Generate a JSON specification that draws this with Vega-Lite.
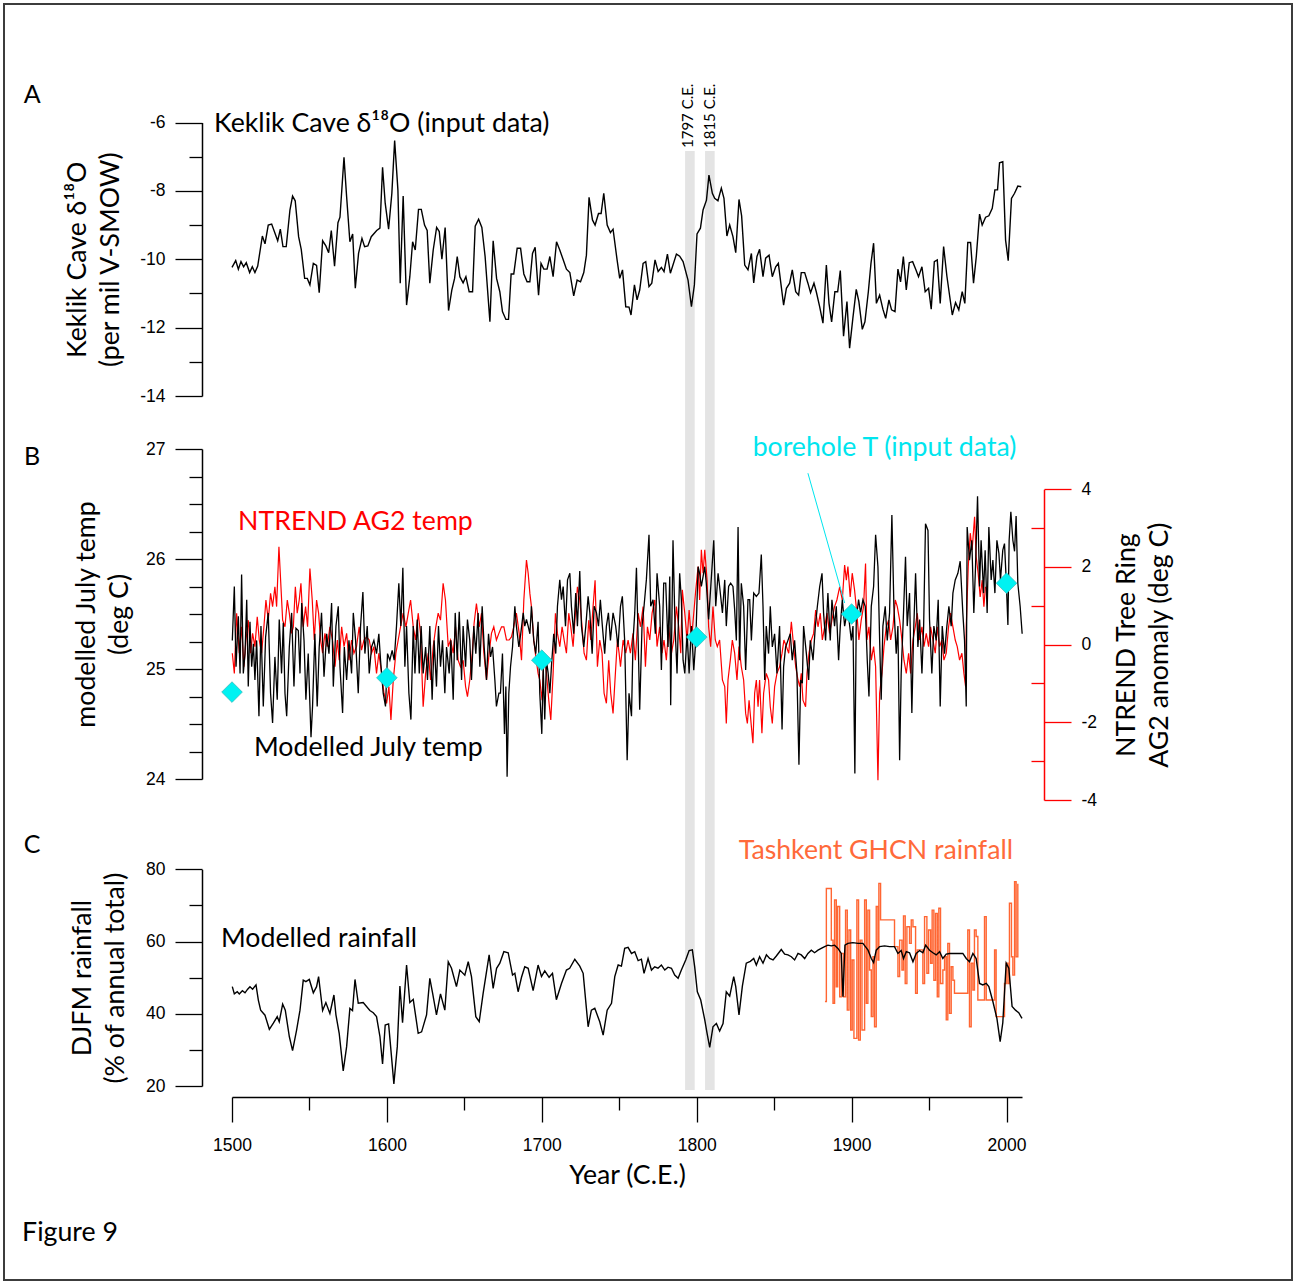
{
"$schema":"https://vega.github.io/schema/vega-lite/v6.json",
"width":1288,"height":1276,
"autosize":{"type":"none"},
"padding":{"left":4,"top":4,"right":4,"bottom":4},
"background":"white",
"config":{
 "view":{"stroke":"#3c3c3c","strokeWidth":2},
 "axis":{"labelFont":"Liberation Sans","labelFontSize":17.5,"labelColor":"#000","titleFont":"Lato","titleFontSize":26.7,"titleFontWeight":"normal","titleColor":"#000","domainColor":"#000","tickColor":"#000","domainWidth":1.5,"tickWidth":1.3,"grid":false,"labelFlush":false,"labelOverlap":false,"titleLineHeight":33}
},
"datasets":{
"keklik":[{"year":1500,"v":-10.24},{"year":1502.4,"v":-10.04},{"year":1504.1,"v":-10.29},{"year":1505.8,"v":-10.07},{"year":1507.5,"v":-10.22},{"year":1509.2,"v":-10.1},{"year":1511.4,"v":-10.39},{"year":1513.1,"v":-10.22},{"year":1514.8,"v":-10.39},{"year":1516.6,"v":-10.2},{"year":1519.6,"v":-9.32},{"year":1521.3,"v":-9.55},{"year":1523.4,"v":-9.0},{"year":1525.6,"v":-8.97},{"year":1529.5,"v":-9.46},{"year":1531.2,"v":-9.12},{"year":1532.9,"v":-9.63},{"year":1535,"v":-9.63},{"year":1537.4,"v":-8.56},{"year":1539.1,"v":-8.15},{"year":1540.8,"v":-8.29},{"year":1543,"v":-9.34},{"year":1544.7,"v":-9.71},{"year":1546.9,"v":-10.56},{"year":1548.6,"v":-10.56},{"year":1550.3,"v":-10.75},{"year":1552.5,"v":-10.12},{"year":1554.6,"v":-10.18},{"year":1556.3,"v":-10.98},{"year":1558.5,"v":-9.46},{"year":1560.6,"v":-9.61},{"year":1562.4,"v":-9.81},{"year":1564.1,"v":-9.16},{"year":1566.2,"v":-10.2},{"year":1568.4,"v":-8.93},{"year":1569.7,"v":-8.77},{"year":1572.3,"v":-7.02},{"year":1574,"v":-8.17},{"year":1576.1,"v":-9.49},{"year":1577.9,"v":-9.26},{"year":1579.6,"v":-10.85},{"year":1581.7,"v":-9.83},{"year":1583.9,"v":-9.39},{"year":1585.6,"v":-9.63},{"year":1587.7,"v":-9.61},{"year":1589.9,"v":-9.34},{"year":1593.4,"v":-9.16},{"year":1595.5,"v":-9.09},{"year":1597.2,"v":-7.31},{"year":1598.9,"v":-8.36},{"year":1601.1,"v":-9.12},{"year":1603.2,"v":-8.07},{"year":1605,"v":-6.53},{"year":1607.1,"v":-7.97},{"year":1608.6,"v":-10.7},{"year":1610.5,"v":-8.15},{"year":1612.7,"v":-11.34},{"year":1614.8,"v":-10.51},{"year":1616.6,"v":-9.49},{"year":1618.3,"v":-9.73},{"year":1620.4,"v":-8.54},{"year":1622.2,"v":-8.54},{"year":1624.3,"v":-9.0},{"year":1626,"v":-9.16},{"year":1627.7,"v":-10.7},{"year":1629.9,"v":-9.73},{"year":1632.1,"v":-9.07},{"year":1633.8,"v":-9.19},{"year":1635.5,"v":-10.0},{"year":1637.6,"v":-9.07},{"year":1639.8,"v":-11.5},{"year":1641.9,"v":-10.9},{"year":1643.7,"v":-10.56},{"year":1645.4,"v":-9.92},{"year":1647.1,"v":-10.51},{"year":1649.2,"v":-10.69},{"year":1651,"v":-10.51},{"year":1653.1,"v":-10.95},{"year":1655.3,"v":-10.95},{"year":1657,"v":-9.03},{"year":1659.2,"v":-8.83},{"year":1661.3,"v":-9.07},{"year":1663.4,"v":-9.92},{"year":1666.5,"v":-11.83},{"year":1668.6,"v":-9.46},{"year":1670.8,"v":-10.56},{"year":1672.9,"v":-10.95},{"year":1674.6,"v":-11.53},{"year":1676.8,"v":-11.76},{"year":1678.5,"v":-11.76},{"year":1680.2,"v":-10.43},{"year":1681.9,"v":-10.43},{"year":1684.1,"v":-9.68},{"year":1686.3,"v":-9.68},{"year":1688.4,"v":-10.43},{"year":1690.5,"v":-10.66},{"year":1692.3,"v":-10.66},{"year":1694,"v":-9.83},{"year":1695.7,"v":-9.65},{"year":1697.9,"v":-11.05},{"year":1699.5,"v":-10.12},{"year":1701.3,"v":-10.29},{"year":1703.4,"v":-10.29},{"year":1705.2,"v":-9.92},{"year":1707.3,"v":-10.51},{"year":1709.5,"v":-9.49},{"year":1711.6,"v":-9.73},{"year":1713.7,"v":-10.0},{"year":1715.9,"v":-10.29},{"year":1718.1,"v":-10.39},{"year":1720.6,"v":-11.07},{"year":1722.8,"v":-10.61},{"year":1725,"v":-10.66},{"year":1727.1,"v":-10.39},{"year":1728.8,"v":-9.88},{"year":1730.5,"v":-8.19},{"year":1732.7,"v":-8.85},{"year":1734.4,"v":-9.0},{"year":1736.6,"v":-8.66},{"year":1738.3,"v":-8.66},{"year":1740,"v":-8.07},{"year":1742.2,"v":-9.0},{"year":1744.3,"v":-9.22},{"year":1746,"v":-9.12},{"year":1748.6,"v":-10.02},{"year":1750.3,"v":-10.56},{"year":1752.1,"v":-10.31},{"year":1754.2,"v":-11.39},{"year":1756.3,"v":-11.4},{"year":1757.6,"v":-11.63},{"year":1759.8,"v":-10.75},{"year":1761.5,"v":-11.19},{"year":1763.2,"v":-10.9},{"year":1765.4,"v":-10.12},{"year":1767.1,"v":-10.07},{"year":1769.2,"v":-10.8},{"year":1771,"v":-10.7},{"year":1773.1,"v":-10.02},{"year":1775.1,"v":-10.36},{"year":1777.2,"v":-10.24},{"year":1778.9,"v":-10.36},{"year":1781.1,"v":-9.85},{"year":1783,"v":-10.41},{"year":1786.9,"v":-9.85},{"year":1789,"v":-9.91},{"year":1791.2,"v":-10.07},{"year":1794.4,"v":-10.61},{"year":1796.6,"v":-11.39},{"year":1798.5,"v":-10.75},{"year":1800.2,"v":-9.26},{"year":1802.4,"v":-9.09},{"year":1804.1,"v":-8.56},{"year":1806.3,"v":-8.27},{"year":1807.9,"v":-7.54},{"year":1810.1,"v":-8.07},{"year":1811.6,"v":-8.22},{"year":1813.7,"v":-8.29},{"year":1815.9,"v":-7.92},{"year":1817.6,"v":-8.22},{"year":1819.5,"v":-9.32},{"year":1821.3,"v":-9.0},{"year":1823.4,"v":-9.34},{"year":1825.2,"v":-9.81},{"year":1827.3,"v":-8.25},{"year":1829,"v":-8.73},{"year":1831,"v":-10.17},{"year":1833.1,"v":-10.31},{"year":1835.3,"v":-9.83},{"year":1836.8,"v":-10.69},{"year":1838.9,"v":-9.92},{"year":1840.6,"v":-9.71},{"year":1842.8,"v":-10.51},{"year":1844.5,"v":-9.97},{"year":1846.7,"v":-9.88},{"year":1848.8,"v":-10.51},{"year":1851,"v":-10.22},{"year":1852.7,"v":-10.12},{"year":1856.1,"v":-11.34},{"year":1857.9,"v":-10.85},{"year":1860,"v":-10.7},{"year":1861.7,"v":-10.31},{"year":1863.9,"v":-10.95},{"year":1865.8,"v":-11.05},{"year":1867.5,"v":-10.39},{"year":1869.7,"v":-10.39},{"year":1871.8,"v":-10.7},{"year":1873.5,"v":-10.98},{"year":1875.7,"v":-10.7},{"year":1877.2,"v":-10.95},{"year":1879.4,"v":-11.39},{"year":1881.5,"v":-11.87},{"year":1883.7,"v":-10.17},{"year":1885.4,"v":-11.29},{"year":1887.1,"v":-11.83},{"year":1889.2,"v":-10.95},{"year":1891,"v":-10.95},{"year":1892.7,"v":-10.33},{"year":1894.8,"v":-12.25},{"year":1897,"v":-11.24},{"year":1898.7,"v":-12.6},{"year":1900.8,"v":-11.73},{"year":1903,"v":-10.88},{"year":1904.7,"v":-11.24},{"year":1906.9,"v":-12.05},{"year":1908.6,"v":-11.83},{"year":1910.8,"v":-10.95},{"year":1912.5,"v":-10.12},{"year":1914.2,"v":-9.53},{"year":1916,"v":-11.29},{"year":1918.1,"v":-11.05},{"year":1920.2,"v":-11.46},{"year":1922,"v":-11.73},{"year":1924.1,"v":-11.19},{"year":1925.8,"v":-11.48},{"year":1928,"v":-11.53},{"year":1929.9,"v":-10.29},{"year":1931.6,"v":-10.66},{"year":1933.4,"v":-9.92},{"year":1935.3,"v":-10.9},{"year":1937.2,"v":-10.1},{"year":1939.4,"v":-10.07},{"year":1941.5,"v":-10.31},{"year":1943.2,"v":-10.51},{"year":1945.4,"v":-10.22},{"year":1947.5,"v":-10.95},{"year":1949.7,"v":-10.85},{"year":1951.4,"v":-11.46},{"year":1953.4,"v":-10.07},{"year":1955.3,"v":-10.02},{"year":1957.2,"v":-11.29},{"year":1959.4,"v":-9.63},{"year":1961.5,"v":-10.49},{"year":1965,"v":-11.63},{"year":1967.1,"v":-11.27},{"year":1969.2,"v":-11.48},{"year":1971.4,"v":-10.95},{"year":1973.1,"v":-11.29},{"year":1975,"v":-9.51},{"year":1976.8,"v":-9.51},{"year":1978.7,"v":-10.7},{"year":1980.5,"v":-9.92},{"year":1982.6,"v":-8.68},{"year":1984.3,"v":-9.0},{"year":1986.5,"v":-8.77},{"year":1988.6,"v":-8.73},{"year":1990.8,"v":-8.51},{"year":1992.5,"v":-7.97},{"year":1994.2,"v":-7.97},{"year":1995.5,"v":-7.18},{"year":1997.6,"v":-7.15},{"year":1999.4,"v":-9.44},{"year":2001.1,"v":-10.04},{"year":2003.2,"v":-8.22},{"year":2005.2,"v":-8.07},{"year":2007.3,"v":-7.86},{"year":2009.5,"v":-7.88}],
"july":[{"year":1500.2,"v":25.26},{"year":1501.5,"v":25.75},{"year":1502.6,"v":25.02},{"year":1504.1,"v":25.48},{"year":1505.2,"v":24.96},{"year":1506.2,"v":25.86},{"year":1507.3,"v":24.96},{"year":1508.4,"v":25.14},{"year":1509.5,"v":25.63},{"year":1510.5,"v":24.84},{"year":1511.6,"v":25.43},{"year":1512.7,"v":25.02},{"year":1513.8,"v":25.23},{"year":1514.8,"v":24.9},{"year":1515.9,"v":25.26},{"year":1517.4,"v":24.57},{"year":1518.7,"v":25.39},{"year":1520.2,"v":24.66},{"year":1521.7,"v":25.29},{"year":1523.4,"v":25.51},{"year":1524.9,"v":24.78},{"year":1526.2,"v":24.51},{"year":1527.7,"v":25.11},{"year":1529.2,"v":24.72},{"year":1530.5,"v":25.45},{"year":1532.0,"v":24.96},{"year":1533.1,"v":25.42},{"year":1534.2,"v":24.78},{"year":1535.3,"v":24.57},{"year":1537.0,"v":25.2},{"year":1538.5,"v":25.51},{"year":1540.0,"v":24.84},{"year":1541.3,"v":25.37},{"year":1542.8,"v":25.35},{"year":1543.9,"v":24.96},{"year":1545.0,"v":25.6},{"year":1546.5,"v":25.26},{"year":1547.7,"v":24.72},{"year":1549.2,"v":25.14},{"year":1551.0,"v":24.38},{"year":1552.0,"v":24.66},{"year":1553.5,"v":25.32},{"year":1555.0,"v":24.66},{"year":1556.3,"v":25.2},{"year":1557.8,"v":25.51},{"year":1559.4,"v":24.93},{"year":1561.1,"v":25.32},{"year":1562.6,"v":25.14},{"year":1564.3,"v":25.6},{"year":1565.4,"v":24.84},{"year":1567.1,"v":25.39},{"year":1568.6,"v":25.57},{"year":1569.7,"v":25.02},{"year":1571.4,"v":24.6},{"year":1572.5,"v":25.2},{"year":1574.0,"v":24.9},{"year":1575.5,"v":25.26},{"year":1577.2,"v":24.96},{"year":1578.3,"v":25.51},{"year":1579.8,"v":25.26},{"year":1581.5,"v":24.78},{"year":1583.0,"v":25.39},{"year":1584.5,"v":25.7},{"year":1585.8,"v":25.14},{"year":1587.3,"v":25.39},{"year":1588.6,"v":24.96},{"year":1590.1,"v":25.2},{"year":1591.6,"v":25.26},{"year":1593.3,"v":25.14},{"year":1594.8,"v":25.32},{"year":1595.9,"v":25.08},{"year":1597.6,"v":24.78},{"year":1599.1,"v":24.66},{"year":1600.4,"v":25.14},{"year":1601.9,"v":25.08},{"year":1603.4,"v":25.17},{"year":1604.7,"v":25.08},{"year":1606.2,"v":25.39},{"year":1607.7,"v":25.78},{"year":1609.0,"v":25.39},{"year":1610.3,"v":25.92},{"year":1611.6,"v":25.02},{"year":1612.7,"v":25.39},{"year":1614.2,"v":24.78},{"year":1615.5,"v":24.54},{"year":1617.0,"v":25.39},{"year":1618.1,"v":24.96},{"year":1619.6,"v":25.45},{"year":1620.9,"v":24.96},{"year":1622.1,"v":25.39},{"year":1623.4,"v":24.96},{"year":1625.0,"v":25.2},{"year":1626.2,"v":24.9},{"year":1627.7,"v":25.39},{"year":1629.2,"v":24.72},{"year":1630.5,"v":25.26},{"year":1632.0,"v":24.84},{"year":1633.3,"v":25.39},{"year":1634.6,"v":25.02},{"year":1635.9,"v":25.26},{"year":1637.4,"v":24.78},{"year":1638.5,"v":25.2},{"year":1640.2,"v":24.96},{"year":1641.3,"v":25.26},{"year":1642.8,"v":24.72},{"year":1644.1,"v":25.51},{"year":1645.4,"v":25.08},{"year":1646.7,"v":25.52},{"year":1648.2,"v":24.9},{"year":1649.2,"v":25.39},{"year":1650.8,"v":25.02},{"year":1652.0,"v":25.45},{"year":1653.5,"v":25.26},{"year":1654.6,"v":24.9},{"year":1656.1,"v":25.39},{"year":1657.4,"v":25.14},{"year":1658.9,"v":25.51},{"year":1660.0,"v":25.02},{"year":1661.5,"v":25.57},{"year":1662.8,"v":25.2},{"year":1664.3,"v":24.9},{"year":1665.6,"v":25.32},{"year":1666.9,"v":25.11},{"year":1668.2,"v":25.2},{"year":1669.7,"v":24.9},{"year":1670.7,"v":24.66},{"year":1672.3,"v":24.78},{"year":1673.3,"v":24.78},{"year":1674.6,"v":25.14},{"year":1675.9,"v":24.41},{"year":1676.8,"v":24.84},{"year":1677.6,"v":24.02},{"year":1678.7,"v":24.78},{"year":1679.8,"v":25.02},{"year":1681.1,"v":25.2},{"year":1682.6,"v":25.57},{"year":1683.6,"v":25.39},{"year":1685.2,"v":25.2},{"year":1686.4,"v":25.32},{"year":1688.0,"v":25.51},{"year":1689.0,"v":25.39},{"year":1690.1,"v":25.45},{"year":1691.2,"v":25.39},{"year":1692.3,"v":25.32},{"year":1693.3,"v":25.57},{"year":1694.8,"v":25.26},{"year":1696.1,"v":25.14},{"year":1697.6,"v":25.43},{"year":1698.7,"v":24.78},{"year":1700.0,"v":24.41},{"year":1700.9,"v":25.02},{"year":1701.9,"v":24.54},{"year":1703.0,"v":25.08},{"year":1704.1,"v":24.96},{"year":1705.2,"v":24.78},{"year":1706.2,"v":25.02},{"year":1707.7,"v":25.32},{"year":1709.0,"v":25.14},{"year":1710.1,"v":25.57},{"year":1711.6,"v":25.81},{"year":1712.7,"v":25.63},{"year":1713.8,"v":25.75},{"year":1715.3,"v":25.39},{"year":1716.6,"v":25.81},{"year":1718.1,"v":25.87},{"year":1719.1,"v":25.57},{"year":1720.6,"v":25.32},{"year":1721.9,"v":25.69},{"year":1723.0,"v":25.39},{"year":1724.5,"v":25.89},{"year":1725.6,"v":25.39},{"year":1727.1,"v":25.2},{"year":1728.4,"v":25.39},{"year":1729.9,"v":25.66},{"year":1731.0,"v":25.51},{"year":1732.5,"v":25.14},{"year":1733.8,"v":25.57},{"year":1735.3,"v":25.51},{"year":1736.6,"v":25.39},{"year":1737.8,"v":25.63},{"year":1739.1,"v":25.39},{"year":1740.6,"v":25.14},{"year":1741.7,"v":25.39},{"year":1743.0,"v":25.51},{"year":1744.3,"v":25.26},{"year":1746.0,"v":25.51},{"year":1747.7,"v":25.39},{"year":1749.2,"v":25.2},{"year":1750.8,"v":25.57},{"year":1752.0,"v":25.66},{"year":1753.5,"v":25.26},{"year":1755.1,"v":24.17},{"year":1756.3,"v":24.78},{"year":1757.9,"v":24.57},{"year":1758.9,"v":25.26},{"year":1760.0,"v":25.51},{"year":1761.1,"v":25.92},{"year":1762.2,"v":25.26},{"year":1763.2,"v":24.63},{"year":1764.7,"v":25.39},{"year":1766.0,"v":25.57},{"year":1767.5,"v":25.81},{"year":1769.2,"v":26.22},{"year":1770.3,"v":25.57},{"year":1771.8,"v":25.63},{"year":1773.3,"v":25.32},{"year":1774.4,"v":25.87},{"year":1776.1,"v":25.57},{"year":1777.2,"v":24.99},{"year":1778.7,"v":25.78},{"year":1780.0,"v":25.78},{"year":1781.5,"v":25.2},{"year":1782.6,"v":25.84},{"year":1783.2,"v":24.67},{"year":1784.7,"v":26.17},{"year":1786.0,"v":25.39},{"year":1787.3,"v":24.96},{"year":1789.0,"v":25.87},{"year":1790.1,"v":25.63},{"year":1791.2,"v":25.08},{"year":1792.3,"v":24.96},{"year":1793.8,"v":25.32},{"year":1795.1,"v":24.96},{"year":1796.6,"v":25.39},{"year":1798.1,"v":24.99},{"year":1799.4,"v":25.26},{"year":1800.9,"v":25.93},{"year":1801.9,"v":25.87},{"year":1803.0,"v":25.75},{"year":1804.1,"v":25.84},{"year":1805.2,"v":25.93},{"year":1806.2,"v":25.78},{"year":1807.7,"v":25.45},{"year":1809.5,"v":25.84},{"year":1811.0,"v":26.17},{"year":1812.3,"v":25.57},{"year":1813.8,"v":25.87},{"year":1814.8,"v":25.75},{"year":1816.6,"v":25.51},{"year":1818.1,"v":25.81},{"year":1819.1,"v":25.39},{"year":1820.6,"v":25.75},{"year":1821.9,"v":25.78},{"year":1823.4,"v":25.75},{"year":1824.5,"v":25.54},{"year":1825.6,"v":25.26},{"year":1826.7,"v":26.29},{"year":1827.7,"v":25.08},{"year":1828.8,"v":25.78},{"year":1830.3,"v":25.57},{"year":1831.6,"v":24.99},{"year":1833.1,"v":25.63},{"year":1834.2,"v":25.63},{"year":1835.3,"v":25.26},{"year":1836.8,"v":25.69},{"year":1838.5,"v":25.66},{"year":1840.2,"v":25.69},{"year":1841.7,"v":26.04},{"year":1842.8,"v":25.57},{"year":1843.9,"v":24.9},{"year":1844.9,"v":25.39},{"year":1846.4,"v":25.14},{"year":1847.5,"v":25.57},{"year":1848.8,"v":25.2},{"year":1850.3,"v":25.32},{"year":1851.8,"v":24.96},{"year":1853.5,"v":25.39},{"year":1855.1,"v":24.45},{"year":1856.1,"v":25.02},{"year":1857.4,"v":25.2},{"year":1858.9,"v":25.26},{"year":1860.4,"v":25.32},{"year":1861.7,"v":25.08},{"year":1863.2,"v":25.26},{"year":1864.7,"v":24.96},{"year":1866.0,"v":24.13},{"year":1867.1,"v":24.9},{"year":1868.2,"v":24.87},{"year":1869.0,"v":25.39},{"year":1870.8,"v":25.14},{"year":1872.3,"v":24.9},{"year":1873.3,"v":25.26},{"year":1875.1,"v":25.08},{"year":1876.6,"v":25.39},{"year":1877.9,"v":25.57},{"year":1879.4,"v":25.75},{"year":1880.9,"v":25.87},{"year":1881.9,"v":25.51},{"year":1883.2,"v":25.26},{"year":1884.7,"v":25.69},{"year":1886.2,"v":25.26},{"year":1887.3,"v":25.63},{"year":1889.0,"v":25.39},{"year":1890.1,"v":25.57},{"year":1891.6,"v":25.08},{"year":1892.7,"v":25.39},{"year":1894.0,"v":25.63},{"year":1895.5,"v":25.39},{"year":1897.0,"v":25.51},{"year":1898.3,"v":25.45},{"year":1899.8,"v":25.26},{"year":1900.9,"v":25.39},{"year":1902.1,"v":24.05},{"year":1903.0,"v":25.45},{"year":1904.5,"v":25.63},{"year":1905.8,"v":25.51},{"year":1907.3,"v":25.63},{"year":1908.8,"v":25.57},{"year":1910.1,"v":25.08},{"year":1911.2,"v":24.75},{"year":1912.7,"v":25.57},{"year":1914.2,"v":25.75},{"year":1915.5,"v":26.22},{"year":1917.0,"v":25.93},{"year":1918.1,"v":25.26},{"year":1919.1,"v":24.72},{"year":1920.2,"v":25.39},{"year":1921.7,"v":25.57},{"year":1923.0,"v":25.26},{"year":1924.5,"v":25.51},{"year":1926.0,"v":26.4},{"year":1927.3,"v":25.57},{"year":1928.8,"v":25.14},{"year":1929.9,"v":25.39},{"year":1931.0,"v":24.17},{"year":1932.0,"v":24.96},{"year":1933.5,"v":25.51},{"year":1934.8,"v":26.02},{"year":1935.9,"v":25.39},{"year":1937.4,"v":25.69},{"year":1938.9,"v":24.6},{"year":1940.0,"v":25.32},{"year":1941.3,"v":25.87},{"year":1942.8,"v":25.2},{"year":1943.9,"v":25.45},{"year":1945.4,"v":24.96},{"year":1946.5,"v":25.39},{"year":1947.7,"v":26.32},{"year":1949.3,"v":26.26},{"year":1950.3,"v":25.45},{"year":1951.8,"v":24.96},{"year":1953.1,"v":25.39},{"year":1954.6,"v":25.26},{"year":1955.9,"v":25.63},{"year":1957.2,"v":24.66},{"year":1958.5,"v":25.39},{"year":1960.0,"v":25.14},{"year":1961.5,"v":25.39},{"year":1962.8,"v":25.57},{"year":1964.3,"v":25.39},{"year":1965.4,"v":25.69},{"year":1966.9,"v":25.81},{"year":1968.6,"v":25.87},{"year":1970.1,"v":25.98},{"year":1971.8,"v":25.51},{"year":1972.9,"v":25.26},{"year":1974.0,"v":24.66},{"year":1974.6,"v":26.29},{"year":1976.1,"v":25.99},{"year":1977.6,"v":26.17},{"year":1978.9,"v":25.51},{"year":1980.0,"v":25.93},{"year":1981.3,"v":26.57},{"year":1982.6,"v":25.75},{"year":1983.6,"v":26.17},{"year":1985.2,"v":25.69},{"year":1986.2,"v":26.08},{"year":1987.5,"v":25.51},{"year":1988.6,"v":26.29},{"year":1990.1,"v":25.81},{"year":1991.2,"v":25.99},{"year":1992.5,"v":25.69},{"year":1993.8,"v":26.17},{"year":1995.1,"v":26.05},{"year":1996.1,"v":25.81},{"year":1997.6,"v":26.08},{"year":1998.7,"v":26.14},{"year":1999.8,"v":25.81},{"year":2000.9,"v":25.4},{"year":2001.7,"v":26.17},{"year":2002.8,"v":26.43},{"year":2004.1,"v":26.17},{"year":2005.2,"v":26.07},{"year":2006.2,"v":26.39},{"year":2007.3,"v":25.78},{"year":2008.8,"v":25.57},{"year":2010.1,"v":25.32}],
"ntrend":[{"year":1500.2,"v":-0.22},{"year":1501.5,"v":-0.74},{"year":1503.0,"v":0.81},{"year":1504.7,"v":-0.22},{"year":1506.2,"v":0.46},{"year":1507.7,"v":-0.57},{"year":1509.0,"v":0.12},{"year":1510.5,"v":0.63},{"year":1512.0,"v":-0.22},{"year":1513.3,"v":0.29},{"year":1514.8,"v":-0.05},{"year":1516.3,"v":0.72},{"year":1517.6,"v":0.12},{"year":1519.1,"v":-0.22},{"year":1520.6,"v":0.46},{"year":1521.9,"v":1.15},{"year":1523.4,"v":0.63},{"year":1524.9,"v":1.32},{"year":1526.2,"v":0.98},{"year":1527.7,"v":1.49},{"year":1528.8,"v":0.98},{"year":1530.3,"v":2.52},{"year":1531.6,"v":1.49},{"year":1532.7,"v":0.63},{"year":1534.2,"v":0.46},{"year":1535.7,"v":1.15},{"year":1537.0,"v":0.81},{"year":1538.5,"v":0.29},{"year":1539.6,"v":0.46},{"year":1540.9,"v":1.49},{"year":1542.1,"v":0.81},{"year":1543.4,"v":1.15},{"year":1544.5,"v":1.58},{"year":1546.0,"v":0.46},{"year":1547.5,"v":0.98},{"year":1548.8,"v":0.46},{"year":1550.3,"v":1.96},{"year":1551.8,"v":1.15},{"year":1553.1,"v":0.12},{"year":1554.6,"v":1.15},{"year":1555.9,"v":0.81},{"year":1557.2,"v":0.12},{"year":1558.5,"v":-0.22},{"year":1560.0,"v":0.29},{"year":1561.5,"v":-0.05},{"year":1563.2,"v":0.46},{"year":1564.9,"v":0.12},{"year":1566.5,"v":-0.57},{"year":1568.0,"v":0.12},{"year":1569.2,"v":-0.4},{"year":1570.8,"v":0.46},{"year":1572.3,"v":-0.05},{"year":1574.0,"v":0.29},{"year":1575.5,"v":-0.4},{"year":1577.2,"v":0.12},{"year":1578.7,"v":-0.22},{"year":1580.4,"v":-0.05},{"year":1582.1,"v":0.46},{"year":1583.6,"v":-0.14},{"year":1585.2,"v":0.12},{"year":1586.9,"v":0.2},{"year":1588.6,"v":0.12},{"year":1590.1,"v":-0.22},{"year":1591.6,"v":-0.05},{"year":1593.3,"v":-0.74},{"year":1594.8,"v":-0.22},{"year":1596.6,"v":-0.74},{"year":1598.1,"v":-1.25},{"year":1599.8,"v":-1.51},{"year":1601.3,"v":-1.08},{"year":1602.6,"v":-1.94},{"year":1604.1,"v":-0.91},{"year":1605.8,"v":-0.22},{"year":1607.3,"v":0.12},{"year":1608.8,"v":0.46},{"year":1610.5,"v":0.81},{"year":1612.3,"v":0.46},{"year":1613.8,"v":0.81},{"year":1615.3,"v":1.15},{"year":1617.0,"v":0.46},{"year":1618.5,"v":0.12},{"year":1620.2,"v":0.81},{"year":1621.7,"v":0.29},{"year":1623.4,"v":-1.6},{"year":1625.0,"v":-0.74},{"year":1626.7,"v":-0.22},{"year":1628.2,"v":-0.91},{"year":1629.9,"v":-0.05},{"year":1631.6,"v":0.46},{"year":1633.1,"v":0.81},{"year":1634.6,"v":0.63},{"year":1636.3,"v":1.58},{"year":1637.8,"v":1.15},{"year":1639.6,"v":-0.05},{"year":1641.1,"v":0.12},{"year":1642.8,"v":-0.22},{"year":1644.3,"v":0.46},{"year":1646.0,"v":-0.4},{"year":1647.5,"v":-0.57},{"year":1649.2,"v":-0.4},{"year":1650.8,"v":-1.08},{"year":1652.0,"v":-1.34},{"year":1653.5,"v":-0.91},{"year":1655.1,"v":-0.22},{"year":1656.3,"v":0.55},{"year":1657.8,"v":1.06},{"year":1659.6,"v":0.46},{"year":1661.1,"v":0.81},{"year":1662.6,"v":-0.22},{"year":1664.3,"v":-0.91},{"year":1666.0,"v":-0.22},{"year":1667.5,"v":0.29},{"year":1669.0,"v":0.46},{"year":1670.7,"v":0.12},{"year":1672.3,"v":0.29},{"year":1674.0,"v":0.46},{"year":1675.5,"v":0.46},{"year":1677.2,"v":0.12},{"year":1678.9,"v":0.12},{"year":1680.4,"v":0.2},{"year":1681.9,"v":0.46},{"year":1683.6,"v":0.81},{"year":1685.4,"v":0.29},{"year":1686.9,"v":-0.4},{"year":1688.4,"v":1.15},{"year":1690.1,"v":2.18},{"year":1691.2,"v":1.84},{"year":1692.3,"v":1.32},{"year":1693.3,"v":0.98},{"year":1694.8,"v":0.12},{"year":1696.1,"v":-0.31},{"year":1697.6,"v":-0.74},{"year":1698.7,"v":-0.91},{"year":1700.2,"v":-1.43},{"year":1701.5,"v":-0.22},{"year":1703.0,"v":-0.74},{"year":1704.5,"v":-1.43},{"year":1705.8,"v":-1.94},{"year":1707.3,"v":-0.74},{"year":1708.8,"v":0.81},{"year":1710.1,"v":0.29},{"year":1711.6,"v":-0.05},{"year":1713.1,"v":0.46},{"year":1714.4,"v":0.12},{"year":1715.9,"v":-0.22},{"year":1717.4,"v":0.81},{"year":1718.7,"v":0.46},{"year":1720.2,"v":-0.05},{"year":1721.7,"v":0.81},{"year":1723.0,"v":1.49},{"year":1724.5,"v":1.15},{"year":1726.0,"v":0.46},{"year":1727.3,"v":-0.22},{"year":1728.8,"v":-0.4},{"year":1730.3,"v":0.63},{"year":1731.6,"v":0.12},{"year":1733.1,"v":0.98},{"year":1734.4,"v":1.66},{"year":1735.9,"v":-0.57},{"year":1737.4,"v":0.12},{"year":1738.9,"v":-0.22},{"year":1740.2,"v":-1.25},{"year":1741.7,"v":-1.51},{"year":1743.2,"v":-0.4},{"year":1744.5,"v":-1.25},{"year":1746.0,"v":-1.77},{"year":1747.5,"v":-0.74},{"year":1748.8,"v":0.12},{"year":1749.9,"v":-0.22},{"year":1750.8,"v":-0.57},{"year":1752.5,"v":0.12},{"year":1754.2,"v":-0.22},{"year":1755.7,"v":0.12},{"year":1757.2,"v":-0.22},{"year":1758.9,"v":0.29},{"year":1760.4,"v":-0.4},{"year":1762.2,"v":0.81},{"year":1763.7,"v":0.46},{"year":1765.4,"v":0.98},{"year":1766.9,"v":-0.57},{"year":1768.2,"v":0.46},{"year":1769.7,"v":0.12},{"year":1771.2,"v":0.81},{"year":1772.9,"v":1.15},{"year":1774.4,"v":-0.05},{"year":1776.1,"v":0.46},{"year":1777.6,"v":-0.22},{"year":1778.9,"v":0.12},{"year":1780.4,"v":-0.4},{"year":1781.9,"v":0.46},{"year":1783.7,"v":-0.22},{"year":1785.2,"v":0.12},{"year":1786.9,"v":0.98},{"year":1788.4,"v":0.46},{"year":1789.7,"v":-0.22},{"year":1790.7,"v":1.41},{"year":1792.3,"v":0.81},{"year":1793.8,"v":0.12},{"year":1795.1,"v":0.89},{"year":1796.6,"v":0.12},{"year":1798.1,"v":0.81},{"year":1799.4,"v":1.41},{"year":1800.9,"v":2.01},{"year":1801.9,"v":1.15},{"year":1803.0,"v":2.44},{"year":1804.1,"v":1.84},{"year":1805.2,"v":2.44},{"year":1806.7,"v":1.66},{"year":1807.7,"v":0.46},{"year":1809.0,"v":-0.05},{"year":1810.5,"v":0.98},{"year":1812.0,"v":0.12},{"year":1813.3,"v":-0.05},{"year":1814.8,"v":0.12},{"year":1816.6,"v":-0.91},{"year":1818.1,"v":-1.08},{"year":1819.1,"v":-2.03},{"year":1820.2,"v":-0.91},{"year":1821.7,"v":-0.4},{"year":1823.0,"v":0.12},{"year":1824.5,"v":-0.22},{"year":1826.0,"v":-0.91},{"year":1827.3,"v":-0.05},{"year":1828.8,"v":-0.57},{"year":1830.3,"v":-0.91},{"year":1831.6,"v":-1.77},{"year":1832.7,"v":-2.03},{"year":1833.8,"v":-1.43},{"year":1835.3,"v":-2.11},{"year":1836.3,"v":-2.54},{"year":1837.4,"v":-1.25},{"year":1838.5,"v":-0.91},{"year":1839.6,"v":-1.6},{"year":1840.6,"v":-0.91},{"year":1842.1,"v":-2.28},{"year":1843.2,"v":-1.25},{"year":1844.9,"v":-0.74},{"year":1846.4,"v":-0.91},{"year":1847.5,"v":-1.6},{"year":1848.8,"v":-2.03},{"year":1850.3,"v":-1.08},{"year":1851.8,"v":-0.74},{"year":1853.5,"v":-0.57},{"year":1855.1,"v":-0.22},{"year":1856.3,"v":0.12},{"year":1857.9,"v":-0.05},{"year":1859.4,"v":-0.22},{"year":1861.1,"v":0.59},{"year":1862.6,"v":-0.05},{"year":1863.9,"v":-0.57},{"year":1865.4,"v":-0.91},{"year":1866.5,"v":-1.08},{"year":1867.5,"v":-0.74},{"year":1868.6,"v":-1.43},{"year":1870.3,"v":-1.6},{"year":1871.2,"v":-0.74},{"year":1872.5,"v":-0.22},{"year":1874.0,"v":0.12},{"year":1875.5,"v":0.29},{"year":1876.8,"v":0.89},{"year":1878.3,"v":0.46},{"year":1879.8,"v":0.81},{"year":1881.1,"v":0.12},{"year":1882.6,"v":0.46},{"year":1884.1,"v":0.81},{"year":1885.8,"v":0.29},{"year":1887.3,"v":0.63},{"year":1889.0,"v":0.98},{"year":1890.5,"v":1.15},{"year":1892.3,"v":1.49},{"year":1894.0,"v":1.15},{"year":1895.5,"v":2.05},{"year":1896.6,"v":1.66},{"year":1897.6,"v":2.01},{"year":1899.1,"v":1.23},{"year":1900.4,"v":1.84},{"year":1901.9,"v":1.41},{"year":1903.4,"v":0.81},{"year":1904.7,"v":0.12},{"year":1906.2,"v":0.63},{"year":1907.7,"v":0.98},{"year":1909.0,"v":2.09},{"year":1909.9,"v":0.12},{"year":1911.2,"v":0.46},{"year":1912.7,"v":-0.4},{"year":1914.2,"v":-0.05},{"year":1915.5,"v":-0.57},{"year":1917.0,"v":-3.49},{"year":1918.1,"v":-1.25},{"year":1919.6,"v":-0.74},{"year":1920.9,"v":-0.05},{"year":1922.4,"v":0.46},{"year":1923.9,"v":0.63},{"year":1925.2,"v":0.12},{"year":1926.7,"v":0.46},{"year":1928.2,"v":1.15},{"year":1929.5,"v":0.98},{"year":1931.0,"v":0.63},{"year":1932.5,"v":0.12},{"year":1933.8,"v":-0.4},{"year":1935.3,"v":-0.74},{"year":1936.8,"v":-0.22},{"year":1938.1,"v":-0.74},{"year":1939.6,"v":0.12},{"year":1941.1,"v":0.46},{"year":1942.4,"v":0.81},{"year":1943.9,"v":0.12},{"year":1945.4,"v":0.46},{"year":1946.7,"v":-0.05},{"year":1948.2,"v":0.29},{"year":1949.7,"v":-0.05},{"year":1951.0,"v":0.46},{"year":1952.5,"v":0.12},{"year":1954.0,"v":-0.22},{"year":1955.3,"v":0.46},{"year":1956.8,"v":-0.05},{"year":1958.3,"v":0.12},{"year":1959.6,"v":-0.4},{"year":1961.1,"v":-0.22},{"year":1962.6,"v":0.46},{"year":1963.9,"v":0.81},{"year":1965.4,"v":0.46},{"year":1966.9,"v":0.12},{"year":1968.2,"v":-0.05},{"year":1969.7,"v":-0.4},{"year":1971.2,"v":-0.22},{"year":1972.5,"v":-0.74},{"year":1973.6,"v":-1.08},{"year":1974.0,"v":0.46},{"year":1975.3,"v":2.01},{"year":1976.6,"v":2.87},{"year":1977.8,"v":2.44},{"year":1979.4,"v":3.29},{"year":1980.4,"v":2.27},{"year":1981.7,"v":1.84},{"year":1983.0,"v":1.23},{"year":1984.3,"v":1.66},{"year":1985.4,"v":0.98},{"year":1986.4,"v":1.49}],
"rain":[{"year":1500.2,"v":47.5},{"year":1501.5,"v":45.5},{"year":1503.4,"v":46.1},{"year":1504.7,"v":45.5},{"year":1506.7,"v":46.4},{"year":1508.4,"v":45.8},{"year":1510.1,"v":46.8},{"year":1511.6,"v":47.5},{"year":1513.3,"v":46.8},{"year":1515.5,"v":48},{"year":1517,"v":43.8},{"year":1518.5,"v":41.0},{"year":1521.3,"v":39.6},{"year":1524.1,"v":35.7},{"year":1526.7,"v":37.4},{"year":1529.2,"v":39.2},{"year":1530.5,"v":37.8},{"year":1532.7,"v":42.7},{"year":1534.4,"v":41.0},{"year":1537,"v":33.7},{"year":1539.1,"v":29.8},{"year":1541.7,"v":35.5},{"year":1543.9,"v":41.0},{"year":1546,"v":49.3},{"year":1547.7,"v":48.9},{"year":1549.9,"v":49.5},{"year":1552.5,"v":45.8},{"year":1554.6,"v":47.5},{"year":1555.9,"v":50.3},{"year":1558.5,"v":40.9},{"year":1560.6,"v":43.1},{"year":1563.2,"v":40.1},{"year":1565.8,"v":45.2},{"year":1567.1,"v":39.7},{"year":1569.2,"v":34.6},{"year":1571.8,"v":24.2},{"year":1574,"v":30.9},{"year":1576.1,"v":41.5},{"year":1577.8,"v":40.9},{"year":1579.4,"v":49.5},{"year":1581.5,"v":42.9},{"year":1584.7,"v":43.1},{"year":1589,"v":40.9},{"year":1591.2,"v":40.3},{"year":1593.3,"v":39.2},{"year":1595.5,"v":33.7},{"year":1597.2,"v":26.1},{"year":1598.9,"v":36.9},{"year":1601.1,"v":37.2},{"year":1602.4,"v":30.9},{"year":1604.5,"v":20.6},{"year":1606.7,"v":30.9},{"year":1608.4,"v":47.7},{"year":1610.1,"v":37.5},{"year":1612.7,"v":53.5},{"year":1614.8,"v":43.1},{"year":1617,"v":44.0},{"year":1620.2,"v":34.6},{"year":1622.4,"v":35.0},{"year":1625.6,"v":39.7},{"year":1627.7,"v":49.8},{"year":1629.5,"v":45.7},{"year":1632,"v":39.7},{"year":1634.6,"v":45.5},{"year":1637.4,"v":41.0},{"year":1639.6,"v":54.4},{"year":1641.7,"v":52.6},{"year":1644.9,"v":47.5},{"year":1647.1,"v":52.1},{"year":1650.3,"v":50.7},{"year":1652.5,"v":54.4},{"year":1654.6,"v":50.3},{"year":1657.4,"v":39.2},{"year":1659.6,"v":37.8},{"year":1662.1,"v":45.6},{"year":1666,"v":56.3},{"year":1668.6,"v":47.0},{"year":1670.8,"v":52.6},{"year":1672.9,"v":54.0},{"year":1675.5,"v":57.2},{"year":1678.3,"v":56.9},{"year":1681.1,"v":50.7},{"year":1682.6,"v":51.2},{"year":1684.7,"v":46.1},{"year":1686.9,"v":50.1},{"year":1689,"v":53.0},{"year":1691.2,"v":52.6},{"year":1694.4,"v":46.4},{"year":1697.6,"v":53.5},{"year":1699.8,"v":50.3},{"year":1701.9,"v":51.9},{"year":1704.7,"v":50.1},{"year":1706.9,"v":51.2},{"year":1709.4,"v":43.9},{"year":1712.7,"v":48.4},{"year":1715.9,"v":52.1},{"year":1718,"v":52.6},{"year":1721.3,"v":55.1},{"year":1724.5,"v":53.2},{"year":1726.7,"v":51.2},{"year":1729.9,"v":36.4},{"year":1732,"v":41.0},{"year":1734.2,"v":41.5},{"year":1737.4,"v":37.8},{"year":1739.6,"v":34.1},{"year":1742.2,"v":41.0},{"year":1745,"v":42.9},{"year":1747.1,"v":50.3},{"year":1749.3,"v":53.5},{"year":1751.4,"v":53.2},{"year":1753.5,"v":58.1},{"year":1755.7,"v":58.4},{"year":1757.9,"v":56.7},{"year":1760,"v":57.2},{"year":1762.2,"v":54.7},{"year":1764.3,"v":55.1},{"year":1766,"v":51.2},{"year":1768.6,"v":55.3},{"year":1770.8,"v":52.1},{"year":1772.9,"v":53.0},{"year":1775,"v":52.6},{"year":1777.2,"v":53.5},{"year":1779.4,"v":52.1},{"year":1781.5,"v":52.9},{"year":1783.7,"v":52.6},{"year":1785.8,"v":50.7},{"year":1788,"v":49.8},{"year":1790.1,"v":52.1},{"year":1792.9,"v":54.9},{"year":1795.1,"v":57.5},{"year":1797.2,"v":57.7},{"year":1798.7,"v":53.0},{"year":1800.4,"v":46.1},{"year":1802.6,"v":43.8},{"year":1805.2,"v":38.3},{"year":1806.7,"v":34.6},{"year":1808.4,"v":30.7},{"year":1810.5,"v":36.4},{"year":1812.7,"v":37.3},{"year":1814.8,"v":35.2},{"year":1817,"v":37.3},{"year":1819.1,"v":46.1},{"year":1821.3,"v":44.9},{"year":1823.9,"v":50.3},{"year":1825.2,"v":47.5},{"year":1827.3,"v":39.7},{"year":1829.5,"v":47.7},{"year":1832,"v":54.0},{"year":1834.6,"v":54.5},{"year":1836.8,"v":55.3},{"year":1838.5,"v":53.5},{"year":1840.6,"v":55.8},{"year":1842.8,"v":54.0},{"year":1845,"v":56.3},{"year":1847.1,"v":55.3},{"year":1849.3,"v":54.9},{"year":1851.4,"v":56.0},{"year":1854.6,"v":57.8},{"year":1856.8,"v":56.5},{"year":1858.9,"v":56.3},{"year":1861.1,"v":55.8},{"year":1863.2,"v":54.9},{"year":1865.4,"v":56.7},{"year":1867.5,"v":56.3},{"year":1869.7,"v":55.3},{"year":1871.8,"v":56.7},{"year":1874,"v":57.6},{"year":1876.1,"v":56.9},{"year":1878.3,"v":57.6},{"year":1880.4,"v":58.1},{"year":1882.6,"v":58.6},{"year":1884.7,"v":59.0},{"year":1886.9,"v":58.8},{"year":1889,"v":59.0},{"year":1891.2,"v":58.1},{"year":1893.3,"v":56.7},{"year":1894.4,"v":44.7},{"year":1895.7,"v":59.0},{"year":1897.6,"v":59.5},{"year":1900.8,"v":59.7},{"year":1904.1,"v":59.5},{"year":1907.3,"v":59.5},{"year":1910.6,"v":57.6},{"year":1912.7,"v":55.3},{"year":1914.2,"v":54.2},{"year":1915.9,"v":57.6},{"year":1918.1,"v":58.6},{"year":1921.3,"v":58.8},{"year":1924.5,"v":58.6},{"year":1927.7,"v":58.6},{"year":1929.9,"v":56.7},{"year":1932,"v":57.5},{"year":1933.5,"v":55.3},{"year":1935.3,"v":57.2},{"year":1937.4,"v":56.9},{"year":1939.6,"v":54.4},{"year":1941.7,"v":56.7},{"year":1943.9,"v":57.5},{"year":1946,"v":56.9},{"year":1947.8,"v":59.0},{"year":1950.3,"v":57.6},{"year":1952.5,"v":56.9},{"year":1954.6,"v":56.3},{"year":1956.8,"v":57.2},{"year":1958.9,"v":55.3},{"year":1961.1,"v":56.5},{"year":1963.2,"v":56.7},{"year":1967.5,"v":56.7},{"year":1971.8,"v":56.7},{"year":1974,"v":55.3},{"year":1976.1,"v":54.4},{"year":1978.3,"v":56.7},{"year":1980.4,"v":55.3},{"year":1982.6,"v":48.4},{"year":1984.7,"v":48.0},{"year":1986.9,"v":48.4},{"year":1988.6,"v":47.5},{"year":1991.2,"v":43.4},{"year":1993.8,"v":38.7},{"year":1995.9,"v":32.3},{"year":1997.6,"v":37.5},{"year":1999.8,"v":54.0},{"year":2001.5,"v":52.6},{"year":2003.6,"v":42.0},{"year":2005.8,"v":41.0},{"year":2007.9,"v":40.3},{"year":2010,"v":38.7}],
"tash":[{"year":1882.8,"v":43.4},{"year":1883.7,"v":74.7},{"year":1886.9,"v":60.4},{"year":1888,"v":42.9},{"year":1889,"v":71.5},{"year":1890.1,"v":47.5},{"year":1891,"v":69.7},{"year":1892.3,"v":44.7},{"year":1893.5,"v":56.7},{"year":1894.8,"v":44.7},{"year":1896.1,"v":68.7},{"year":1897.2,"v":41.0},{"year":1898.3,"v":63.2},{"year":1899.4,"v":35.5},{"year":1900.4,"v":54.9},{"year":1901.5,"v":33.2},{"year":1903.4,"v":71.5},{"year":1904.5,"v":32.7},{"year":1905.6,"v":60.4},{"year":1906.7,"v":35.5},{"year":1908.4,"v":71.5},{"year":1909.5,"v":42.9},{"year":1910.5,"v":68.7},{"year":1911.6,"v":52.1},{"year":1912.7,"v":39.2},{"year":1913.8,"v":55.8},{"year":1914.8,"v":36.4},{"year":1915.9,"v":69.7},{"year":1917,"v":54.9},{"year":1917.6,"v":76.1},{"year":1918.7,"v":66.0},{"year":1927.7,"v":58.6},{"year":1929.9,"v":50.3},{"year":1931,"v":60.4},{"year":1932.5,"v":52.1},{"year":1933.5,"v":67.1},{"year":1934.6,"v":48.4},{"year":1935.7,"v":64.1},{"year":1937.4,"v":59.5},{"year":1938.5,"v":66.0},{"year":1939.6,"v":64.1},{"year":1941.3,"v":45.7},{"year":1942.4,"v":57.7},{"year":1946,"v":48.4},{"year":1947.1,"v":66.9},{"year":1948.6,"v":51.2},{"year":1949.7,"v":63.2},{"year":1951,"v":54.0},{"year":1952,"v":68.7},{"year":1953.1,"v":49.3},{"year":1954.2,"v":67.8},{"year":1955.3,"v":44.7},{"year":1956.3,"v":69.2},{"year":1957.4,"v":48.4},{"year":1958.9,"v":52.1},{"year":1960,"v":55.8},{"year":1961.1,"v":38.3},{"year":1962.1,"v":59.5},{"year":1963.2,"v":40.1},{"year":1964.3,"v":53.0},{"year":1965.4,"v":49.3},{"year":1966.4,"v":45.7},{"year":1975,"v":63.2},{"year":1976.1,"v":36.4},{"year":1977.2,"v":54.0},{"year":1978.3,"v":46.6},{"year":1979.3,"v":63.2},{"year":1980.4,"v":61.4},{"year":1981.5,"v":43.8},{"year":1985.8,"v":66.9},{"year":1986.9,"v":43.8},{"year":1992.3,"v":57.7},{"year":1993.3,"v":39.2},{"year":1998.7,"v":48.4},{"year":1999.8,"v":54.0},{"year":2000.9,"v":48.4},{"year":2001.9,"v":70.6},{"year":2003.2,"v":55.8},{"year":2004.1,"v":50.7},{"year":2005.2,"v":76.6},{"year":2006.2,"v":55.8},{"year":2007.3,"v":76.0}],
"bore":[{"year":1500,"v":24.79},{"year":1600,"v":24.92},{"year":1700,"v":25.08},{"year":1800,"v":25.29},{"year":1900,"v":25.5},{"year":2000,"v":25.78}],
"bands":[{"start":1792.5,"end":1798.7,"mid":1794.6,"label":"1797 C.E."},{"start":1805.4,"end":1811.6,"mid":1808.5,"label":"1815 C.E."}]
},
"layer":[
 {"data":{"name":"bands"},"mark":{"type":"rect","color":"#e4e4e4"},
  "encoding":{"x":{"field":"start","type":"quantitative","scale":{"domain":[1500,2010],"range":[228,1018],"nice":false,"zero":false},"axis":{"title":"Year (C.E.)","orient":"bottom","offset":-183,"values":[1500,1550,1600,1650,1700,1750,1800,1850,1900,1950,2000],"labelExpr":"datum.value % 100 === 0 ? '' + datum.value : ''","tickSize":{"condition":{"test":"datum.value % 100 !== 0","value":13},"value":25},"labelPadding":14,"titlePadding":9}},"x2":{"field":"end"},
   "y":{"datum":-6.83,"type":"quantitative","scale":{"domain":[-14,-6],"range":[392,118.5],"nice":false,"zero":false},"axis":null},"y2":{"datum":-34.3}}},
 {"data":{"name":"bands"},"mark":{"type":"text","angle":270,"align":"left","baseline":"middle","font":"Lato","fontSize":15,"color":"#000"},
  "encoding":{"x":{"field":"mid","type":"quantitative","scale":{"domain":[1500,2010],"range":[228,1018],"nice":false,"zero":false},"axis":{"title":"Year (C.E.)","orient":"bottom","offset":-183,"values":[1500,1550,1600,1650,1700,1750,1800,1850,1900,1950,2000],"labelExpr":"datum.value % 100 === 0 ? '' + datum.value : ''","tickSize":{"condition":{"test":"datum.value % 100 !== 0","value":13},"value":25},"labelPadding":14,"titlePadding":9}},
   "y":{"datum":-6.746,"type":"quantitative","scale":{"domain":[-14,-6],"range":[392,118.5],"nice":false,"zero":false},"axis":null},"text":{"field":"label"}}},
 {"data":{"name":"keklik"},"mark":{"type":"line","color":"#000","strokeWidth":1.4},
  "encoding":{"x":{"field":"year","type":"quantitative","scale":{"domain":[1500,2010],"range":[228,1018],"nice":false,"zero":false},"axis":{"title":"Year (C.E.)","orient":"bottom","offset":-183,"values":[1500,1550,1600,1650,1700,1750,1800,1850,1900,1950,2000],"labelExpr":"datum.value % 100 === 0 ? '' + datum.value : ''","tickSize":{"condition":{"test":"datum.value % 100 !== 0","value":13},"value":25},"labelPadding":14,"titlePadding":9}},
   "y":{"field":"v","type":"quantitative","scale":{"domain":[-14,-6],"range":[392,118.5],"nice":false,"zero":false},
   "axis":{"orient":"left","offset":-198,"values":[-14,-13,-12,-11,-10,-9,-8,-7,-6],"labelExpr":"datum.value % 2 === 0 ? '' + datum.value : ''",
    "tickSize":{"condition":{"test":"datum.value % 2 !== 0","value":13},"value":27},"labelPadding":10,"titlePadding":15,
    "title":["Keklik Cave δ¹⁸O","(per mil V-SMOW)"]}}}},
 {"data":{"name":"ntrend"},"mark":{"type":"line","color":"#ff0000","strokeWidth":1.2},
  "encoding":{"x":{"field":"year","type":"quantitative","scale":{"domain":[1500,2010],"range":[228,1018],"nice":false,"zero":false},"axis":{"title":"Year (C.E.)","orient":"bottom","offset":-183,"values":[1500,1550,1600,1650,1700,1750,1800,1850,1900,1950,2000],"labelExpr":"datum.value % 100 === 0 ? '' + datum.value : ''","tickSize":{"condition":{"test":"datum.value % 100 !== 0","value":13},"value":25},"labelPadding":14,"titlePadding":9}},
   "y":{"field":"v","type":"quantitative","scale":{"domain":[-4,4],"range":[796,485.3],"nice":false,"zero":false},
   "axis":{"orient":"right","offset":-248,"values":[-4,-3,-2,-1,0,1,2,3,4],"labelExpr":"datum.value % 2 === 0 ? '' + datum.value : ''",
    "tickSize":{"condition":{"test":"datum.value % 2 !== 0","value":-13},"value":27},"labelPadding":10,"titlePadding":-16,
    "domainColor":"#ff0000","tickColor":"#ff0000","titleAngle":270,"titleBaseline":"top",
    "title":["NTREND Tree Ring","AG2 anomaly (deg C)"]}}}},
 {"data":{"name":"july"},"mark":{"type":"line","color":"#000","strokeWidth":1.3},
  "encoding":{"x":{"field":"year","type":"quantitative","scale":{"domain":[1500,2010],"range":[228,1018],"nice":false,"zero":false},"axis":{"title":"Year (C.E.)","orient":"bottom","offset":-183,"values":[1500,1550,1600,1650,1700,1750,1800,1850,1900,1950,2000],"labelExpr":"datum.value % 100 === 0 ? '' + datum.value : ''","tickSize":{"condition":{"test":"datum.value % 100 !== 0","value":13},"value":25},"labelPadding":14,"titlePadding":9}},
   "y":{"field":"v","type":"quantitative","scale":{"domain":[24,27],"range":[775,445],"nice":false,"zero":false},
   "axis":{"orient":"left","offset":-198,"values":[24,24.25,24.5,24.75,25,25.25,25.5,25.75,26,26.25,26.5,26.75,27],"labelExpr":"datum.value % 1 === 0 ? '' + datum.value : ''",
    "tickSize":{"condition":{"test":"datum.value % 1 !== 0","value":13},"value":27},"labelPadding":10,"titlePadding":12,
    "title":["modelled July temp","(deg C)"]}}}},
 {"data":{"values":[{"kind":"callout"}]},"mark":{"type":"rule","color":"#00e5ee","strokeWidth":1},
  "encoding":{"x":{"datum":1871.8,"type":"quantitative","scale":{"domain":[1500,2010],"range":[228,1018],"nice":false,"zero":false},"axis":{"title":"Year (C.E.)","orient":"bottom","offset":-183,"values":[1500,1550,1600,1650,1700,1750,1800,1850,1900,1950,2000],"labelExpr":"datum.value % 100 === 0 ? '' + datum.value : ''","tickSize":{"condition":{"test":"datum.value % 100 !== 0","value":13},"value":25},"labelPadding":14,"titlePadding":9}},"x2":{"datum":1895.5},
   "y":{"datum":26.78,"type":"quantitative","scale":{"domain":[24,27],"range":[775,445],"nice":false,"zero":false},"axis":null},"y2":{"datum":25.6}}},
 {"data":{"name":"bore"},"mark":{"type":"point","shape":"diamond","size":430,"filled":true,"color":"#00f2f2","stroke":"#3aa8a8","strokeWidth":0.6,"opacity":1},
  "encoding":{"x":{"field":"year","type":"quantitative","scale":{"domain":[1500,2010],"range":[228,1018],"nice":false,"zero":false},"axis":{"title":"Year (C.E.)","orient":"bottom","offset":-183,"values":[1500,1550,1600,1650,1700,1750,1800,1850,1900,1950,2000],"labelExpr":"datum.value % 100 === 0 ? '' + datum.value : ''","tickSize":{"condition":{"test":"datum.value % 100 !== 0","value":13},"value":25},"labelPadding":14,"titlePadding":9}},
   "y":{"field":"v","type":"quantitative","scale":{"domain":[24,27],"range":[775,445],"nice":false,"zero":false},"axis":null}}},
 {"data":{"name":"tash"},"mark":{"type":"line","color":"#ff6633","strokeWidth":1.4,"interpolate":"step-after"},
  "encoding":{"x":{"field":"year","type":"quantitative","scale":{"domain":[1500,2010],"range":[228,1018],"nice":false,"zero":false},"axis":{"title":"Year (C.E.)","orient":"bottom","offset":-183,"values":[1500,1550,1600,1650,1700,1750,1800,1850,1900,1950,2000],"labelExpr":"datum.value % 100 === 0 ? '' + datum.value : ''","tickSize":{"condition":{"test":"datum.value % 100 !== 0","value":13},"value":25},"labelPadding":14,"titlePadding":9}},
   "y":{"field":"v","type":"quantitative","scale":{"domain":[20,80],"range":[1082,865.3],"nice":false,"zero":false},"axis":null}}},
 {"data":{"name":"rain"},"mark":{"type":"line","color":"#000","strokeWidth":1.4},
  "encoding":{"x":{"field":"year","type":"quantitative","scale":{"domain":[1500,2010],"range":[228,1018],"nice":false,"zero":false},"axis":{"title":"Year (C.E.)","orient":"bottom","offset":-183,"values":[1500,1550,1600,1650,1700,1750,1800,1850,1900,1950,2000],"labelExpr":"datum.value % 100 === 0 ? '' + datum.value : ''","tickSize":{"condition":{"test":"datum.value % 100 !== 0","value":13},"value":25},"labelPadding":14,"titlePadding":9}},
   "y":{"field":"v","type":"quantitative","scale":{"domain":[20,80],"range":[1082,865.3],"nice":false,"zero":false},
   "axis":{"orient":"left","offset":-198,"values":[20,30,40,50,60,70,80],"labelExpr":"datum.value % 20 === 0 ? '' + datum.value : ''",
    "tickSize":{"condition":{"test":"datum.value % 20 !== 0","value":13},"value":27},"labelPadding":10,"titlePadding":16,
    "title":["DJFM rainfall","(% of annual total)"]}}}},
 {"data":{"values":[{"t":"Keklik Cave δ¹⁸O (input data)"}]},"mark":{"type":"text","align":"left","baseline":"middle","font":"Lato","fontSize":26.7,"color":"#000"},
  "encoding":{"text":{"field":"t"},"x":{"datum":1488.4,"type":"quantitative","scale":{"domain":[1500,2010],"range":[228,1018],"nice":false,"zero":false},"axis":{"title":"Year (C.E.)","orient":"bottom","offset":-183,"values":[1500,1550,1600,1650,1700,1750,1800,1850,1900,1950,2000],"labelExpr":"datum.value % 100 === 0 ? '' + datum.value : ''","tickSize":{"condition":{"test":"datum.value % 100 !== 0","value":13},"value":25},"labelPadding":14,"titlePadding":9}},"y":{"datum":-6.04,"type":"quantitative","scale":{"domain":[-14,-6],"range":[392,118.5],"nice":false,"zero":false},"axis":null}}},
 {"data":{"values":[{"t":"A"}]},"mark":{"type":"text","align":"center","baseline":"middle","font":"Lato","fontSize":25,"color":"#000"},
  "encoding":{"text":{"field":"t"},"x":{"datum":1371,"type":"quantitative","scale":{"domain":[1500,2010],"range":[228,1018],"nice":false,"zero":false},"axis":{"title":"Year (C.E.)","orient":"bottom","offset":-183,"values":[1500,1550,1600,1650,1700,1750,1800,1850,1900,1950,2000],"labelExpr":"datum.value % 100 === 0 ? '' + datum.value : ''","tickSize":{"condition":{"test":"datum.value % 100 !== 0","value":13},"value":25},"labelPadding":14,"titlePadding":9}},"y":{"datum":-5.2,"type":"quantitative","scale":{"domain":[-14,-6],"range":[392,118.5],"nice":false,"zero":false},"axis":null}}},
 {"data":{"values":[{"t":"NTREND AG2 temp"}]},"mark":{"type":"text","align":"left","baseline":"middle","font":"Lato","fontSize":26.7,"color":"#ff0000"},
  "encoding":{"text":{"field":"t"},"x":{"datum":1503.9,"type":"quantitative","scale":{"domain":[1500,2010],"range":[228,1018],"nice":false,"zero":false},"axis":{"title":"Year (C.E.)","orient":"bottom","offset":-183,"values":[1500,1550,1600,1650,1700,1750,1800,1850,1900,1950,2000],"labelExpr":"datum.value % 100 === 0 ? '' + datum.value : ''","tickSize":{"condition":{"test":"datum.value % 100 !== 0","value":13},"value":25},"labelPadding":14,"titlePadding":9}},"y":{"datum":26.34,"type":"quantitative","scale":{"domain":[24,27],"range":[775,445],"nice":false,"zero":false},"axis":null}}},
 {"data":{"values":[{"t":"Modelled July temp"}]},"mark":{"type":"text","align":"left","baseline":"middle","font":"Lato","fontSize":26.7,"color":"#000"},
  "encoding":{"text":{"field":"t"},"x":{"datum":1514.2,"type":"quantitative","scale":{"domain":[1500,2010],"range":[228,1018],"nice":false,"zero":false},"axis":{"title":"Year (C.E.)","orient":"bottom","offset":-183,"values":[1500,1550,1600,1650,1700,1750,1800,1850,1900,1950,2000],"labelExpr":"datum.value % 100 === 0 ? '' + datum.value : ''","tickSize":{"condition":{"test":"datum.value % 100 !== 0","value":13},"value":25},"labelPadding":14,"titlePadding":9}},"y":{"datum":24.28,"type":"quantitative","scale":{"domain":[24,27],"range":[775,445],"nice":false,"zero":false},"axis":null}}},
 {"data":{"values":[{"t":"borehole T (input data)"}]},"mark":{"type":"text","align":"left","baseline":"middle","font":"Lato","fontSize":26.7,"color":"#00e5ee"},
  "encoding":{"text":{"field":"t"},"x":{"datum":1836.1,"type":"quantitative","scale":{"domain":[1500,2010],"range":[228,1018],"nice":false,"zero":false},"axis":{"title":"Year (C.E.)","orient":"bottom","offset":-183,"values":[1500,1550,1600,1650,1700,1750,1800,1850,1900,1950,2000],"labelExpr":"datum.value % 100 === 0 ? '' + datum.value : ''","tickSize":{"condition":{"test":"datum.value % 100 !== 0","value":13},"value":25},"labelPadding":14,"titlePadding":9}},"y":{"datum":27.01,"type":"quantitative","scale":{"domain":[24,27],"range":[775,445],"nice":false,"zero":false},"axis":null}}},
 {"data":{"values":[{"t":"B"}]},"mark":{"type":"text","align":"center","baseline":"middle","font":"Lato","fontSize":25,"color":"#000"},
  "encoding":{"text":{"field":"t"},"x":{"datum":1371,"type":"quantitative","scale":{"domain":[1500,2010],"range":[228,1018],"nice":false,"zero":false},"axis":{"title":"Year (C.E.)","orient":"bottom","offset":-183,"values":[1500,1550,1600,1650,1700,1750,1800,1850,1900,1950,2000],"labelExpr":"datum.value % 100 === 0 ? '' + datum.value : ''","tickSize":{"condition":{"test":"datum.value % 100 !== 0","value":13},"value":25},"labelPadding":14,"titlePadding":9}},"y":{"datum":26.93,"type":"quantitative","scale":{"domain":[24,27],"range":[775,445],"nice":false,"zero":false},"axis":null}}},
 {"data":{"values":[{"t":"Modelled rainfall"}]},"mark":{"type":"text","align":"left","baseline":"middle","font":"Lato","fontSize":26.7,"color":"#000"},
  "encoding":{"text":{"field":"t"},"x":{"datum":1492.9,"type":"quantitative","scale":{"domain":[1500,2010],"range":[228,1018],"nice":false,"zero":false},"axis":{"title":"Year (C.E.)","orient":"bottom","offset":-183,"values":[1500,1550,1600,1650,1700,1750,1800,1850,1900,1950,2000],"labelExpr":"datum.value % 100 === 0 ? '' + datum.value : ''","tickSize":{"condition":{"test":"datum.value % 100 !== 0","value":13},"value":25},"labelPadding":14,"titlePadding":9}},"y":{"datum":60.72,"type":"quantitative","scale":{"domain":[20,80],"range":[1082,865.3],"nice":false,"zero":false},"axis":null}}},
 {"data":{"values":[{"t":"Tashkent GHCN rainfall"}]},"mark":{"type":"text","align":"left","baseline":"middle","font":"Lato","fontSize":26.7,"color":"#ff6a3a"},
  "encoding":{"text":{"field":"t"},"x":{"datum":1827.1,"type":"quantitative","scale":{"domain":[1500,2010],"range":[228,1018],"nice":false,"zero":false},"axis":{"title":"Year (C.E.)","orient":"bottom","offset":-183,"values":[1500,1550,1600,1650,1700,1750,1800,1850,1900,1950,2000],"labelExpr":"datum.value % 100 === 0 ? '' + datum.value : ''","tickSize":{"condition":{"test":"datum.value % 100 !== 0","value":13},"value":25},"labelPadding":14,"titlePadding":9}},"y":{"datum":85.07,"type":"quantitative","scale":{"domain":[20,80],"range":[1082,865.3],"nice":false,"zero":false},"axis":null}}},
 {"data":{"values":[{"t":"C"}]},"mark":{"type":"text","align":"center","baseline":"middle","font":"Lato","fontSize":25,"color":"#000"},
  "encoding":{"text":{"field":"t"},"x":{"datum":1371,"type":"quantitative","scale":{"domain":[1500,2010],"range":[228,1018],"nice":false,"zero":false},"axis":{"title":"Year (C.E.)","orient":"bottom","offset":-183,"values":[1500,1550,1600,1650,1700,1750,1800,1850,1900,1950,2000],"labelExpr":"datum.value % 100 === 0 ? '' + datum.value : ''","tickSize":{"condition":{"test":"datum.value % 100 !== 0","value":13},"value":25},"labelPadding":14,"titlePadding":9}},"y":{"datum":86.73,"type":"quantitative","scale":{"domain":[20,80],"range":[1082,865.3],"nice":false,"zero":false},"axis":null}}},
 {"data":{"values":[{"t":"Figure 9"}]},"mark":{"type":"text","align":"left","baseline":"middle","font":"Lato","fontSize":26.7,"color":"#000"},
  "encoding":{"text":{"field":"t"},"x":{"datum":1364.5,"type":"quantitative","scale":{"domain":[1500,2010],"range":[228,1018],"nice":false,"zero":false},"axis":{"title":"Year (C.E.)","orient":"bottom","offset":-183,"values":[1500,1550,1600,1650,1700,1750,1800,1850,1900,1950,2000],"labelExpr":"datum.value % 100 === 0 ? '' + datum.value : ''","tickSize":{"condition":{"test":"datum.value % 100 !== 0","value":13},"value":25},"labelPadding":14,"titlePadding":9}},"y":{"datum":-20.69,"type":"quantitative","scale":{"domain":[20,80],"range":[1082,865.3],"nice":false,"zero":false},"axis":null}}}
],
"resolve":{"scale":{"y":"independent"},"axis":{"y":"independent"}}
}
